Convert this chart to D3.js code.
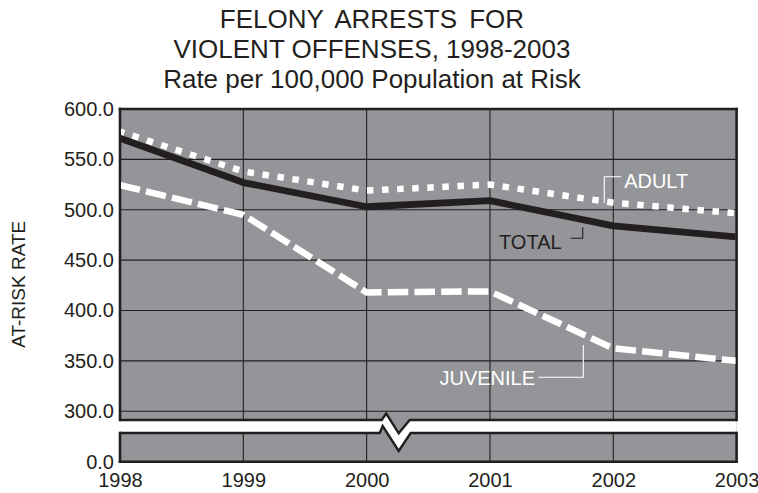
<!DOCTYPE html>
<html>
<head>
<meta charset="utf-8">
<script src="https://cdn.jsdelivr.net/npm/d3@7/dist/d3.min.js"></script>
<style>
  html, body { margin: 0; padding: 0; background: #fff; }
  svg { display: block; }
  text { font-family: Arial, "Liberation Sans", Helvetica, sans-serif; fill: #231f20; }
</style>
</head>
<body>
<svg id="chart" width="758" height="493"></svg>
<script>
// ---- data ----
const years = [1998, 1999, 2000, 2001, 2002, 2003];
const totalRate = [571, 527, 503, 509, 484, 473];
const adultRate = [577.5, 538, 519, 525, 507, 496.5];
const juvenileRate = [524.5, 495, 418, 419, 362.5, 350];
const yTicksUpper = [300, 350, 400, 450, 500, 550, 600];
const yTicksLower = [0];
const titleLines = ["FELONY ARRESTS FOR", "VIOLENT OFFENSES, 1998-2003", "Rate per 100,000 Population at Risk"];
const yAxisTitle = "AT-RISK RATE";
const seriesNames = ["TOTAL", "ADULT", "JUVENILE"];

// ---- layout ----
const W = 758, H = 493;
const left = 120, right = 736.6;
const upperTop = 109, upperGrid300 = 411.3, upperBottom = 420;
const lowerTop = 433, lowerBottom = 461.7;

const svg = d3.select("#chart");

const x = d3.scaleLinear().domain([1998, 2003]).range([left, right]);
const yU = d3.scaleLinear().domain([300, 600]).range([upperGrid300, upperTop]);
const yL = d3.scaleLinear().domain([0, 28]).range([lowerBottom, lowerTop]);

const GRAY = "#939598", INK = "#231f20";

// title
svg.append("g").selectAll("text").data(titleLines).join("text")
  .attr("x", 372).attr("y", (d, i) => 28.3 + i * 30)
  .attr("text-anchor", "middle")
  .style("font-size", "26px")
  .style("word-spacing", (d, i) => i === 0 ? "5px" : "0px")
  .text(d => d);

// background
svg.append("rect").attr("x", left).attr("y", upperTop)
  .attr("width", right - left).attr("height", lowerBottom - upperTop)
  .attr("fill", GRAY);

// grid
const grid = svg.append("g").attr("stroke", INK).attr("stroke-width", 1.1);
grid.selectAll("line.v").data(years.slice(1, -1)).join("line")
  .attr("x1", d => x(d)).attr("x2", d => x(d))
  .attr("y1", upperTop).attr("y2", lowerBottom);
grid.selectAll("line.h").data(yTicksUpper.slice(0, -1)).join("line")
  .attr("x1", left).attr("x2", right)
  .attr("y1", d => yU(d)).attr("y2", d => yU(d));

// break band
const bx = x(2000.26);
const upperZig = [[left, upperBottom], [bx - 17, upperBottom], [bx - 12.5, upperBottom - 6.5], [bx, upperBottom + 13.3], [bx + 11, upperBottom], [right, upperBottom]];
const lowerZig = [[left, lowerTop], [bx - 19, lowerTop], [bx - 16, lowerTop - 7], [bx, lowerTop + 18], [bx + 12, lowerTop], [right, lowerTop]];
svg.append("path")
  .attr("d", d3.line()(upperZig.concat(lowerZig.slice().reverse())) + "Z")
  .attr("fill", "#fff");
const zig = d3.line();
svg.append("path").attr("d", zig(upperZig)).attr("fill", "none").attr("stroke", INK).attr("stroke-width", 2.4).attr("stroke-linejoin", "miter");
svg.append("path").attr("d", zig(lowerZig)).attr("fill", "none").attr("stroke", INK).attr("stroke-width", 2.4).attr("stroke-linejoin", "miter");

// frame borders
const frame = svg.append("g").attr("stroke", INK).attr("stroke-width", 2.6).attr("stroke-linecap", "square");
frame.append("line").attr("x1", left).attr("x2", right).attr("y1", upperTop).attr("y2", upperTop);
frame.append("line").attr("x1", left).attr("x2", right).attr("y1", lowerBottom).attr("y2", lowerBottom);
[left, right].forEach(xx => {
  frame.append("line").attr("x1", xx).attr("x2", xx).attr("y1", upperTop).attr("y2", upperBottom);
  frame.append("line").attr("x1", xx).attr("x2", xx).attr("y1", lowerTop).attr("y2", lowerBottom);
});

// axes
const fmt = d3.format(".1f");
const axU = svg.append("g").attr("transform", `translate(${left},0)`)
  .call(d3.axisLeft(yU).tickValues(yTicksUpper).tickFormat(fmt).tickSize(0).tickPadding(6));
const axL = svg.append("g").attr("transform", `translate(${left},0)`)
  .call(d3.axisLeft(yL).tickValues(yTicksLower).tickFormat(fmt).tickSize(0).tickPadding(6));
const axX = svg.append("g").attr("transform", `translate(0,${lowerBottom})`)
  .call(d3.axisBottom(x).tickValues(years).tickFormat(d3.format("d")).tickSize(0).tickPadding(11.5));
[axU, axL, axX].forEach(g => {
  g.select(".domain").remove();
  g.selectAll("text").style("font-size", "20px").attr("fill", INK)
    .style("font-family", 'Arial, "Liberation Sans", Helvetica, sans-serif');
});

// y axis title
svg.append("text")
  .attr("transform", `translate(24.5,${(upperTop + lowerBottom) / 2 - 1}) rotate(-90)`)
  .attr("text-anchor", "middle")
  .style("font-size", "19px")
  .text(yAxisTitle);

// clip
svg.append("clipPath").attr("id", "clipU").append("rect")
  .attr("x", left + 1).attr("y", upperTop + 1).attr("width", right - left - 2).attr("height", upperBottom - upperTop - 2);

const line = d3.line().x((d, i) => x(years[i])).y(d => yU(d));
const lines = svg.append("g").attr("clip-path", "url(#clipU)").attr("fill", "none");
lines.append("path").datum(juvenileRate).attr("d", line)
  .attr("stroke", "#fff").attr("stroke-width", 6.5).attr("stroke-dasharray", "20.5,6.2").attr("stroke-linejoin", "round");
lines.append("path").datum(adultRate).attr("d", line)
  .attr("stroke", "#fff").attr("stroke-width", 6.5).attr("stroke-dasharray", "6.5,8.6").attr("stroke-dashoffset", 2).attr("stroke-linejoin", "round");
lines.append("path").datum(totalRate).attr("d", line)
  .attr("stroke", INK).attr("stroke-width", 6.8).attr("stroke-linejoin", "round");

// series labels with leader lines (positions in data units)
const labels = [
  { name: seriesNames[1], tx: 2002.088, tv: 521.3, anchor: "start", color: "#fff", leader: [[2002.064, 532.8], [2001.927, 532.8], [2001.927, 506.7]] },
  { name: seriesNames[0], tx: 2001.581, tv: 460.8, anchor: "end", color: INK, leader: [[2001.655, 471.7], [2001.752, 471.7], [2001.752, 482.6]] },
  { name: seriesNames[2], tx: 2001.366, tv: 326.1, anchor: "end", color: "#fff", leader: [[2001.392, 333.8], [2001.757, 333.8], [2001.757, 365.8]] }
];
const lg = svg.append("g");
labels.forEach(l => {
  lg.append("path").attr("d", d3.line().x(p => x(p[0])).y(p => yU(p[1]))(l.leader))
    .attr("fill", "none").attr("stroke", l.color).attr("stroke-width", 1.1);
  lg.append("text").attr("x", x(l.tx)).attr("y", yU(l.tv))
    .attr("text-anchor", l.anchor).style("font-size", "20px").style("fill", l.color).text(l.name);
});
</script>
</body>
</html>
